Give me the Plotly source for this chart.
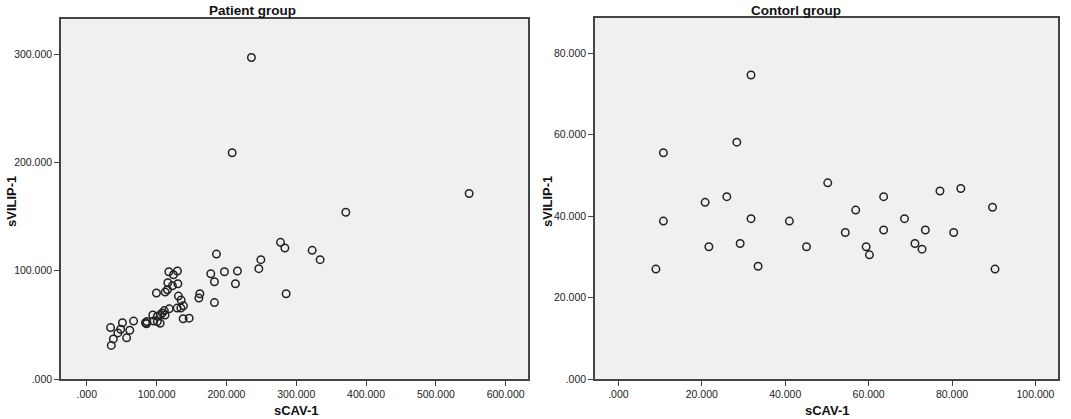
import plotly.graph_objects as go

# Patient group
patient_cav = [34, 35, 38, 44.5, 48.5, 51, 57, 61.5, 67,
               84, 85.5, 86, 94.5, 96, 101, 101, 105, 105.5, 108, 111, 112,
               99.7, 112.2, 115.5, 116, 117.5, 118, 122.6, 124.1, 129.8, 130.4,
               131.2, 129.4, 135.1, 134.7, 138.4, 138, 146.6,
               160.5, 161.9, 182.8, 177.6, 182.8, 185.7, 197.1, 212.9, 215.8,
               208.2, 235.8, 246.4, 249.3, 277.4, 283.7, 285.5, 322.8, 334.2,
               371, 547.7]
patient_vilip = [47.5, 31, 37, 42.6, 46, 52, 38, 45, 53.5,
                 52, 51, 53, 59.2, 53.5, 58, 53, 51.5, 59.5, 61, 63.2, 59,
                 79.4, 80.3, 82.4, 88.9, 99.1, 64.8, 86.1, 96.3, 99.7, 88,
                 76.6, 65.5, 72.9, 65.5, 67.6, 55.6, 56.2,
                 74.7, 78.7, 70.6, 97.2, 89.8, 115.4, 99.1, 88, 99.7,
                 209, 296.9, 101.9, 110.2, 126.2, 121, 78.7, 118.8, 110.2,
                 154, 171.3]

# Control group
control_cav = [31.8, 10.8, 28.4, 50.2, 20.8, 26.0, 63.6, 77.1, 82.1, 89.7, 56.9,
               10.8, 9.0, 21.7, 29.2, 31.8, 33.5, 41.0, 45.1, 54.4, 59.4, 60.2,
               63.6, 68.6, 71.1, 72.8, 73.6, 80.4, 90.3]
control_vilip = [74.7, 55.6, 58.2, 48.2, 43.4, 44.8, 44.8, 46.2, 46.8, 42.2, 41.5,
                 38.8, 27.0, 32.5, 33.3, 39.4, 27.7, 38.8, 32.5, 36.0, 32.5, 30.5,
                 36.6, 39.4, 33.3, 31.9, 36.6, 36.0, 27.0]

left_xticks = [0, 100, 200, 300, 400, 500, 600]
left_yticks = [0, 100, 200, 300]
right_xticks = [0, 20, 40, 60, 80, 100]
right_yticks = [0, 20, 40, 60, 80]


def lab(v):
    return ".000" if v == 0 else f"{v}.000"


W, H = 1071, 419
font = dict(family="Liberation Sans, Arial, sans-serif", size=10.5, color="#222222")

fig = go.Figure()
marker = dict(symbol="circle-open", size=7.5, color="#222222", line=dict(width=1.5))
fig.add_trace(go.Scatter(x=patient_cav, y=patient_vilip, mode="markers",
                         marker=marker, xaxis="x", yaxis="y", showlegend=False))
fig.add_trace(go.Scatter(x=control_cav, y=control_vilip, mode="markers",
                         marker=marker, xaxis="x2", yaxis="y2", showlegend=False))

axis_style = dict(showgrid=False, zeroline=False, showline=True, mirror=True,
                  linecolor="#444444", linewidth=1.5, ticks="outside", ticklen=5,
                  tickcolor="#444444", tickfont=font)

fig.update_layout(
    width=W, height=H,
    margin=dict(l=0, r=0, t=0, b=0, autoexpand=False),
    paper_bgcolor="white", plot_bgcolor="#F0F0F0",
    font=font,
    xaxis=dict(domain=[61 / W, 528 / W], range=[-37, 632],
               tickvals=left_xticks, ticktext=[lab(v) for v in left_xticks],
               anchor="y", **axis_style),
    yaxis=dict(domain=[(H - 379) / H, (H - 19) / H], range=[0, 332.5],
               tickvals=left_yticks, ticktext=[lab(v) for v in left_yticks],
               anchor="x", **axis_style),
    xaxis2=dict(domain=[595 / W, 1058 / W], range=[-5.6, 105.4],
                tickvals=right_xticks, ticktext=[lab(v) for v in right_xticks],
                anchor="y2", **axis_style),
    yaxis2=dict(domain=[(H - 379) / H, (H - 18) / H], range=[0, 88.7],
                tickvals=right_yticks, ticktext=[lab(v) for v in right_yticks],
                anchor="x2", **axis_style),
)

bold = dict(family="Liberation Sans, Arial, sans-serif", size=13.5, color="#111111")
bold_ax = dict(family="Liberation Sans, Arial, sans-serif", size=13, color="#111111")
ann = [
    dict(text="<b>Patient group</b>", x=252 / W, y=(H - 10) / H, font=bold),
    dict(text="<b>Contorl group</b>", x=796 / W, y=(H - 10) / H, font=bold),
    dict(text="<b>sCAV-1</b>", x=296 / W, y=(H - 410) / H, font=bold_ax),
    dict(text="<b>sCAV-1</b>", x=827 / W, y=(H - 410) / H, font=bold_ax),
    dict(text="<b>sVILIP-1</b>", x=11 / W, y=(H - 202) / H, font=bold_ax, textangle=-90),
    dict(text="<b>sVILIP-1</b>", x=547 / W, y=(H - 202) / H, font=bold_ax, textangle=-90),
]
for a in ann:
    fig.add_annotation(xref="paper", yref="paper", showarrow=False,
                       xanchor="center", yanchor="middle", **a)

# remove the default page margin so the figure fills the window exactly
fig.write_html("out.html", config={"displayModeBar": False},
               post_script="document.body.style.margin='0';")
